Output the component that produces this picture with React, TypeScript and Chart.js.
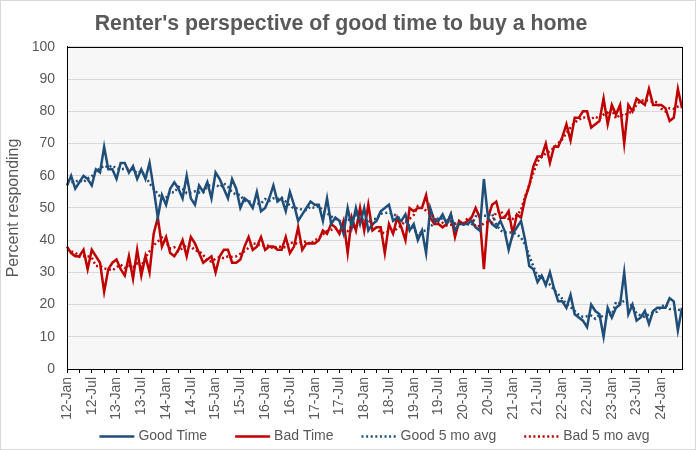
import React, { useEffect, useRef } from 'react';
import { Chart, registerables } from 'chart.js';

Chart.register(...registerables);

const FONT = '"Liberation Sans", Arial, Helvetica, sans-serif';
const TEXT = '#595959';
const BLUE = '#1f4e79';
const RED = '#c00000';

const MONTHS = ['Jan', 'Feb', 'Mar', 'Apr', 'May', 'Jun', 'Jul', 'Aug', 'Sep', 'Oct', 'Nov', 'Dec'];
const YEARS = ['12', '13', '14', '15', '16', '17', '18', '19', '20', '21', '22', '23', '24'];
const N_POINTS = 150; // Jan 2012 .. Jun 2024
const CATEGORIES: string[] = [];
YEARS.forEach((y) => MONTHS.forEach((m) => CATEGORIES.push(`${y}-${m}`)));
CATEGORIES.length = N_POINTS;

const GOOD_TIME = [
  57, 60, 56, 58, 60, 59, 57, 62, 61, 69,
  62, 62, 59, 64, 64, 61, 63, 59, 62, 59,
  64, 56, 47, 54, 51, 56, 58, 56, 53, 60,
  53, 51, 57, 55, 58, 53, 61, 59, 56, 53,
  59, 56, 50, 53, 52, 50, 55, 49, 50, 53,
  57, 52, 53, 49, 55, 51, 46, 48, 50, 52,
  51, 51, 46, 53, 45, 47, 46, 42, 50, 44,
  50, 45, 50, 43, 45, 46, 49, 50, 51, 46,
  47, 46, 48, 43, 45, 40, 43, 36, 50, 46,
  46, 48, 45, 48, 43, 45, 45, 45, 46, 44,
  43, 59, 47, 45, 44, 46, 43, 37, 42, 44,
  46, 40, 32, 31, 27, 29, 26, 30, 25, 21,
  21, 19, 23, 17, 16, 15, 13, 20, 18, 17,
  10, 19, 16, 19, 20, 30, 17, 20, 15, 16,
  18, 14, 18, 19, 19, 19, 22, 21, 12, 19,
];

const BAD_TIME = [
  38, 36, 35, 35, 37, 31, 37, 35, 33, 24,
  31, 33, 34, 31, 29, 35, 28, 37, 29, 35,
  30, 42, 47, 38, 41, 36, 35, 37, 40, 35,
  41, 39, 36, 33, 34, 35, 30, 35, 37, 37,
  33, 33, 34, 38, 41, 37, 38, 41, 37, 38,
  38, 37, 37, 41, 36, 38, 44, 37, 39, 39,
  39, 40, 43, 42, 45, 44, 42, 46, 36, 47,
  43, 50, 43, 51, 43, 44, 44, 36, 45, 42,
  47, 44, 40, 50, 49, 50, 50, 54, 47, 45,
  45, 44, 45, 48, 41, 46, 45, 46, 47, 50,
  47, 31, 47, 51, 52, 47, 47, 49, 42, 48,
  47, 53, 57, 63, 66, 66, 70, 64, 69, 69,
  72, 76, 71, 78, 78, 80, 80, 75, 76, 77,
  84, 76, 82, 79, 82, 70, 82, 80, 84, 83,
  82, 87, 82, 82, 82, 81, 77, 78, 87, 81,
];

const GOOD_AVG = [
  57.5, 58.0, 58.2, 58.6, 58.0, 59.2, 59.8, 61.6, 62.2, 63.2,
  62.6, 63.2, 62.2, 62.0, 62.2, 62.2, 61.8, 60.8, 61.4, 60.0,
  57.6, 56.0, 54.4, 52.8, 53.2, 55.0, 54.8, 56.6, 56.0, 54.6,
  54.8, 55.2, 54.8, 54.8, 56.8, 57.2, 57.4, 56.4, 57.6, 56.6,
  54.8, 54.2, 54.0, 52.2, 52.0, 51.8, 51.2, 51.4, 52.8, 52.2,
  53.0, 52.8, 53.2, 52.0, 50.8, 49.8, 50.0, 49.4, 49.4, 50.4,
  50.0, 50.6, 49.2, 48.4, 47.4, 46.6, 46.0, 45.8, 46.4, 46.2,
  47.8, 46.4, 46.6, 45.8, 46.6, 46.6, 48.2, 48.4, 48.6, 48.0,
  47.6, 46.0, 45.8, 44.4, 43.8, 41.4, 42.8, 43.0, 44.2, 45.2,
  47.0, 46.6, 46.0, 45.8, 45.2, 45.2, 44.8, 45.0, 44.6, 47.4,
  47.8, 47.6, 47.6, 48.2, 45.0, 43.0, 42.4, 42.4, 42.4, 41.8,
  40.8, 38.6, 35.2, 31.8, 29.0, 28.6, 27.4, 26.2, 24.6, 23.2,
  21.8, 20.2, 19.2, 18.0, 16.8, 16.2, 16.4, 16.6, 15.6, 16.8,
  16.0, 16.2, 16.8, 20.8, 20.4, 21.2, 20.4, 19.6, 17.2, 16.6,
  16.2, 17.0, 17.6, 17.8, 19.4, 20.0, 18.6, 18.6, 18.5, 18.0,
];

const BAD_AVG = [
  37.0, 36.5, 36.2, 34.8, 35.0, 35.0, 34.6, 32.0, 32.0, 31.2,
  31.0, 30.6, 31.6, 32.4, 31.4, 32.0, 31.6, 32.8, 31.8, 34.6,
  36.6, 38.4, 39.6, 40.8, 39.4, 37.4, 37.8, 36.6, 37.6, 38.4,
  38.2, 36.8, 36.6, 35.4, 33.6, 33.4, 34.2, 34.8, 34.4, 35.0,
  34.8, 35.0, 35.8, 36.6, 37.6, 39.0, 38.8, 38.2, 38.4, 38.2,
  37.4, 38.2, 37.8, 37.8, 39.2, 39.2, 38.8, 39.4, 39.6, 38.8,
  40.0, 40.6, 41.8, 42.8, 43.2, 43.8, 42.6, 43.0, 42.8, 44.4,
  43.8, 46.8, 46.0, 46.2, 45.0, 43.6, 42.4, 42.2, 42.8, 42.8,
  43.6, 44.6, 46.0, 46.6, 47.8, 50.6, 50.0, 49.2, 48.2, 47.0,
  45.2, 45.4, 44.6, 44.8, 45.0, 45.2, 45.0, 46.8, 47.0, 44.2,
  44.4, 45.2, 45.6, 45.6, 48.8, 49.2, 47.4, 46.6, 46.6, 47.8,
  49.4, 53.6, 57.2, 61.0, 64.4, 65.8, 67.0, 67.6, 68.8, 70.0,
  71.4, 73.2, 75.0, 76.6, 77.4, 78.2, 77.8, 77.6, 78.4, 77.6,
  79.0, 79.6, 80.6, 77.8, 79.0, 78.6, 79.6, 79.8, 82.2, 83.2,
  83.6, 83.2, 83.0, 82.8, 80.8, 80.0, 81.0, 80.8, 81.5, 82.0,
];

const SERIES_LABELS = ['Good Time', 'Bad Time', 'Good 5 mo avg', 'Bad 5 mo avg'];
const TITLE = "Renter's perspective of good time to buy a home";
const Y_TITLE = 'Percent responding';

const DOT_DASH = [2, 2.6];

const framePlugin = {
  id: 'frame',
  beforeDraw(chart: any) {
    const { ctx, chartArea } = chart;
    const { left, top, right, bottom } = chartArea;
    ctx.save();
    ctx.fillStyle = '#ffffff';
    ctx.fillRect(0, 0, chart.width, chart.height);
    ctx.fillStyle = '#f7f7f7';
    ctx.fillRect(left, top, right - left, bottom - top);
    ctx.strokeStyle = '#d9d9d9';
    ctx.lineWidth = 1;
    ctx.strokeRect(0.5, 0.5, chart.width - 1, chart.height - 1);
    ctx.restore();
  },
  afterDatasetsDraw(chart: any) {
    const { ctx, chartArea } = chart;
    const { left, top, right, bottom } = chartArea;
    ctx.save();
    ctx.strokeStyle = '#000000';
    ctx.lineWidth = 1;
    ctx.strokeRect(Math.round(left) + 0.5, Math.round(top) + 0.5, Math.round(right - left), Math.round(bottom - top));
    ctx.restore();
  },
  afterDraw(chart: any) {
    const { ctx, chartArea } = chart;
    const datasets = chart.data.datasets;
    ctx.save();
    ctx.font = `14px ${FONT}`;
    const sample = 35;
    const gapText = 4;
    const gapItem = 28;
    const widths = datasets.map((ds: any) => sample + gapText + ctx.measureText(ds.label).width);
    const total = widths.reduce((a: number, b: number) => a + b, 0) + gapItem * (datasets.length - 1);
    let x = (chartArea.left + chartArea.right) / 2 - total / 2;
    const y = 436.5;
    datasets.forEach((ds: any, i: number) => {
      ctx.beginPath();
      ctx.setLineDash(ds.borderDash || []);
      ctx.strokeStyle = ds.borderColor;
      ctx.lineWidth = ds.borderWidth;
      ctx.moveTo(x, y);
      ctx.lineTo(x + sample, y);
      ctx.stroke();
      ctx.setLineDash([]);
      ctx.fillStyle = TEXT;
      ctx.textAlign = 'left';
      ctx.textBaseline = 'middle';
      ctx.fillText(ds.label, x + sample + gapText, y);
      x += widths[i] + gapItem;
    });
    ctx.restore();
  },
};

export default function App() {
  const canvasRef = useRef<HTMLCanvasElement | null>(null);

  useEffect(() => {
    if (!canvasRef.current) return;
    Chart.defaults.font.family = FONT;
    const chart = new Chart(canvasRef.current, {
      type: 'line',
      data: {
        labels: CATEGORIES,
        datasets: [
          {
            label: SERIES_LABELS[0],
            data: GOOD_TIME,
            borderColor: BLUE,
            backgroundColor: BLUE,
            borderWidth: 2.5,
            pointRadius: 0,
            tension: 0,
            order: 2,
          },
          {
            label: SERIES_LABELS[1],
            data: BAD_TIME,
            borderColor: RED,
            backgroundColor: RED,
            borderWidth: 2.5,
            pointRadius: 0,
            tension: 0,
            order: 3,
          },
          {
            label: SERIES_LABELS[2],
            data: GOOD_AVG,
            borderColor: BLUE,
            backgroundColor: BLUE,
            borderWidth: 2.5,
            borderDash: DOT_DASH,
            pointRadius: 0,
            tension: 0,
            order: 0,
          },
          {
            label: SERIES_LABELS[3],
            data: BAD_AVG,
            borderColor: RED,
            backgroundColor: RED,
            borderWidth: 2.5,
            borderDash: DOT_DASH,
            pointRadius: 0,
            tension: 0,
            order: 1,
          },
        ],
      },
      options: {
        responsive: false,
        animation: false,
        events: [],
        layout: { padding: { left: 0, right: 14, top: 0, bottom: 26 } },
        plugins: {
          legend: { display: false },
          tooltip: { enabled: false },
          title: {
            display: true,
            text: TITLE,
            color: TEXT,
            font: { size: 21.3, weight: 'bold', family: FONT },
            padding: { top: 11, bottom: 10.4 },
          },
        },
        scales: {
          x: {
            type: 'category',
            offset: false,
            grid: {
              display: true,
              drawOnChartArea: false,
              drawTicks: true,
              tickLength: 4,
              color: '#000000',
              lineWidth: 1,
            },
            border: { display: true, color: '#000000', width: 1 },
            ticks: {
              autoSkip: false,
              maxRotation: 90,
              minRotation: 90,
              padding: 4,
              color: TEXT,
              font: { size: 14, family: FONT },
              callback: (_value: any, index: number) =>
                index % 6 === 0 ? CATEGORIES[index] : index % 3 === 0 ? '' : null,
            },
            afterFit: (scale: any) => {
              scale.height = 55;
            },
          },
          y: {
            min: 0,
            max: 100,
            ticks: {
              stepSize: 10,
              padding: 12,
              color: TEXT,
              font: { size: 14, family: FONT },
            },
            grid: { color: '#d9d9d9', lineWidth: 1, drawTicks: false },
            border: { display: true, color: '#000000', width: 1 },
            title: {
              display: true,
              text: Y_TITLE,
              color: TEXT,
              font: { size: 16, family: FONT },
              padding: { top: 4, bottom: 0 },
            },
            afterFit: (scale: any) => {
              scale.width = 67;
            },
          },
        },
      },
      plugins: [framePlugin],
    });
    return () => chart.destroy();
  }, []);

  return (
    <div style={{ position: 'absolute', left: 0, top: 0, width: 696, height: 450 }}>
      <canvas ref={canvasRef} width={696} height={450} style={{ display: 'block' }} />
    </div>
  );
}
